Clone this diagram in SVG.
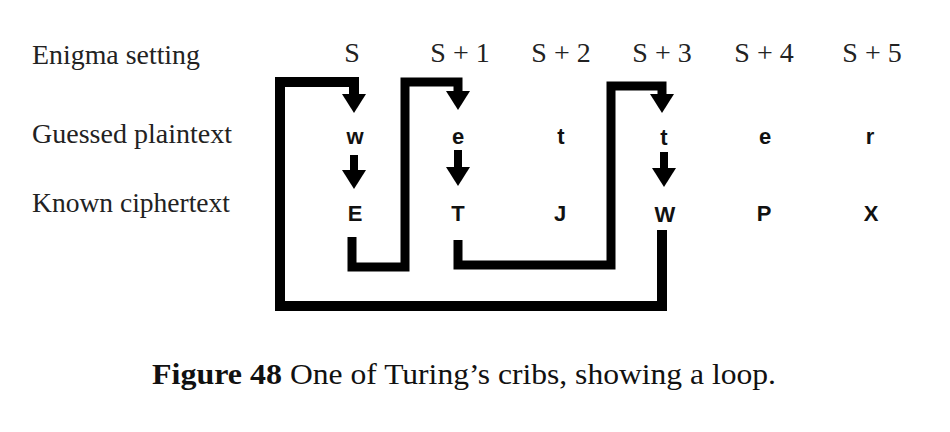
<svg xmlns="http://www.w3.org/2000/svg" width="950" height="432" viewBox="0 0 950 432">
<style>
.lbl{font-family:"Liberation Serif","Times New Roman",serif;font-size:28px;fill:#222}
.hdr{font-family:"Liberation Serif","Times New Roman",serif;font-size:28px;fill:#222;text-anchor:middle}
.ch{font-family:"Liberation Sans",Arial,sans-serif;font-size:22px;font-weight:bold;fill:#111;text-anchor:middle}
.cap{font-family:"Liberation Serif","Times New Roman",serif;font-size:30px;fill:#111}
.wire{fill:none;stroke:#000;stroke-linejoin:miter;stroke-linecap:butt}
</style>
<defs>
<marker id="ah" markerUnits="userSpaceOnUse" viewBox="0 0 20 24" markerWidth="20" markerHeight="24" refX="1" refY="12" orient="auto">
<path d="M0,0 L19,12 L0,24 Z" fill="#000"/>
</marker>
</defs>
<rect width="950" height="432" fill="#fff"/>
<g id="labels">
<text class="lbl" x="32" y="64" textLength="168" lengthAdjust="spacingAndGlyphs">Enigma setting</text>
<text class="lbl" x="32" y="143" textLength="200" lengthAdjust="spacingAndGlyphs">Guessed plaintext</text>
<text class="lbl" x="32" y="212" textLength="198" lengthAdjust="spacingAndGlyphs">Known ciphertext</text>
</g>
<g id="header">
<text class="hdr" x="352" y="62">S</text>
<text class="hdr" x="460" y="62">S + 1</text>
<text class="hdr" x="561" y="62">S + 2</text>
<text class="hdr" x="662" y="62">S + 3</text>
<text class="hdr" x="764" y="62">S + 4</text>
<text class="hdr" x="872" y="62">S + 5</text>
</g>
<g id="plain">
<text class="ch" x="355" y="144">w</text>
<text class="ch" x="458" y="144">e</text>
<text class="ch" x="561" y="144">t</text>
<text class="ch" x="664" y="145">t</text>
<text class="ch" x="765" y="144">e</text>
<text class="ch" x="870" y="144">r</text>
</g>
<g id="cipher">
<text class="ch" x="355" y="221">E</text>
<text class="ch" x="458" y="221">T</text>
<text class="ch" x="560" y="221">J</text>
<text class="ch" x="665" y="222">W</text>
<text class="ch" x="764" y="221">P</text>
<text class="ch" x="871" y="221">X</text>
</g>
<g id="connectors">
<polyline class="wire" stroke-width="10" points="662,230 662,306 280,306 280,82 354,82 354,95" marker-end="url(#ah)"/>
<polyline class="wire" stroke-width="9" points="352,237 352,267 405,267 405,82 458,82 458,92" marker-end="url(#ah)"/>
<polyline class="wire" stroke-width="9" points="458,240 458,265 611,265 611,86 662,86 662,95" marker-end="url(#ah)"/>
<line class="wire" stroke-width="8" x1="354" y1="155" x2="354" y2="171" marker-end="url(#ah)"/>
<line class="wire" stroke-width="8" x1="458" y1="150" x2="458" y2="168" marker-end="url(#ah)"/>
<line class="wire" stroke-width="8" x1="664" y1="152" x2="664" y2="169" marker-end="url(#ah)"/>
</g>
<g id="caption">
<text class="cap" x="152" y="384" font-weight="bold" textLength="130" lengthAdjust="spacingAndGlyphs">Figure 48</text>
<text class="cap" x="290" y="384" textLength="486" lengthAdjust="spacingAndGlyphs">One of Turing’s cribs, showing a loop.</text>
</g>
</svg>
